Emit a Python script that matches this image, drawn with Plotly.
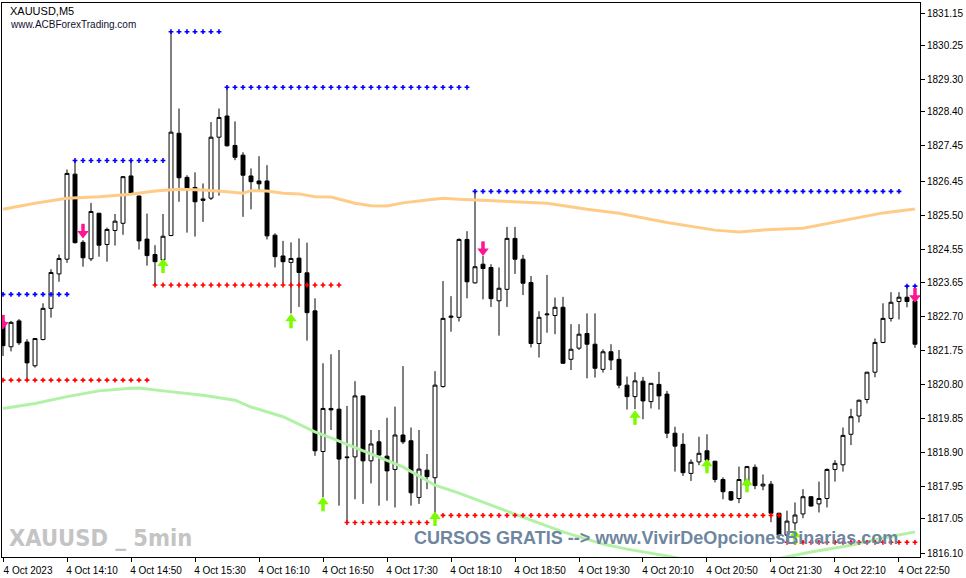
"""
XAUUSD M5 candlestick chart, MT4 style, with fractal levels and arrows
"""
import pandas as pd
import plotly.graph_objects as go

# 5 minute bars, 4 Oct 2023 13:30 .. 23:00
times = pd.date_range('2023-10-04 13:30', periods=115, freq='5min')

opens = [
    1822.55, 1821.85, 1822.57, 1821.98, 1821.32, 1822.05, 1822.92, 1823.88, 1824.29, 1826.66,
    1824.76, 1824.30, 1825.57, 1824.70, 1825.09, 1825.29, 1826.61, 1826.05, 1824.85, 1824.42,
    1824.27, 1824.95, 1827.80, 1826.57, 1826.29, 1825.97, 1825.99, 1827.69, 1828.28, 1827.46,
    1827.19, 1826.61, 1826.47, 1826.47, 1824.96, 1824.38, 1824.20, 1824.32, 1823.91, 1822.85,
    1818.93, 1820.13, 1820.11, 1818.78, 1818.78, 1820.48, 1818.67, 1819.20, 1818.80, 1818.43,
    1819.39, 1819.23, 1817.65, 1818.41, 1818.20, 1820.74, 1822.67, 1822.67, 1824.84, 1823.63,
    1824.15, 1824.06, 1823.13, 1823.45, 1824.87, 1824.29, 1823.64, 1821.94, 1822.74, 1822.72,
    1822.95, 1821.50, 1821.81, 1822.22, 1821.92, 1821.22, 1821.71, 1821.50, 1820.78, 1820.46,
    1820.89, 1820.32, 1820.80, 1820.53, 1819.44, 1819.13, 1818.32, 1818.64, 1818.95, 1818.66,
    1818.15, 1817.81, 1817.62, 1817.99, 1818.49, 1817.97, 1818.02, 1817.21, 1816.60, 1816.94,
    1817.19, 1817.67, 1817.47, 1817.62, 1818.43, 1818.56, 1819.41, 1819.92, 1820.38, 1821.14,
    1821.97, 1822.64, 1823.11, 1823.23, 1823.13,
]
highs = [
    1822.65, 1822.57, 1822.62, 1822.06, 1822.09, 1823.06, 1824.01, 1824.42, 1826.79, 1827.04,
    1824.82, 1825.86, 1825.58, 1825.17, 1825.55, 1826.61, 1827.05, 1826.06, 1825.56, 1824.68,
    1825.55, 1830.64, 1828.49, 1826.63, 1826.71, 1826.40, 1828.11, 1828.49, 1829.08, 1828.13,
    1827.27, 1826.82, 1827.16, 1826.91, 1825.01, 1824.80, 1824.76, 1824.87, 1824.75, 1823.20,
    1821.39, 1821.64, 1821.76, 1820.20, 1820.89, 1820.49, 1819.53, 1819.53, 1819.87, 1820.18,
    1821.31, 1819.60, 1819.53, 1818.86, 1821.17, 1823.68, 1823.26, 1824.87, 1825.07, 1826.18,
    1824.38, 1824.15, 1824.06, 1825.19, 1825.19, 1824.41, 1823.82, 1822.84, 1823.85, 1823.22,
    1823.24, 1822.48, 1822.48, 1822.78, 1822.78, 1821.78, 1821.92, 1821.76, 1821.02, 1821.14,
    1821.01, 1820.84, 1821.15, 1820.62, 1819.62, 1819.44, 1818.71, 1819.34, 1819.41, 1818.67,
    1818.21, 1817.82, 1818.51, 1818.53, 1818.57, 1818.29, 1818.11, 1817.22, 1817.28, 1817.51,
    1817.88, 1817.68, 1818.09, 1818.46, 1818.69, 1819.60, 1820.12, 1820.37, 1821.15, 1822.08,
    1823.06, 1823.37, 1823.37, 1823.53, 1823.35,
]
lows = [
    1821.59, 1821.72, 1821.90, 1820.92, 1821.27, 1822.03, 1822.66, 1823.66, 1824.19, 1824.73,
    1824.08, 1824.24, 1824.36, 1824.22, 1824.67, 1824.97, 1826.12, 1824.56, 1824.11, 1823.57,
    1824.24, 1824.93, 1825.89, 1825.03, 1824.92, 1825.33, 1825.94, 1826.06, 1827.43, 1827.05,
    1825.47, 1825.68, 1826.22, 1824.84, 1824.06, 1823.62, 1822.78, 1822.96, 1822.02, 1818.81,
    1817.66, 1819.53, 1817.42, 1816.95, 1817.60, 1817.47, 1818.04, 1817.42, 1817.56, 1817.37,
    1819.14, 1817.42, 1817.47, 1817.88, 1817.15, 1820.71, 1822.27, 1822.55, 1823.20, 1823.61,
    1823.17, 1822.96, 1822.16, 1822.96, 1823.88, 1823.29, 1821.83, 1821.55, 1822.24, 1822.20,
    1821.37, 1821.20, 1821.76, 1820.97, 1820.99, 1821.13, 1821.20, 1820.69, 1820.10, 1820.11,
    1819.83, 1820.13, 1820.10, 1819.30, 1818.37, 1818.25, 1818.11, 1818.55, 1818.62, 1818.07,
    1817.60, 1817.55, 1817.49, 1817.85, 1817.88, 1817.85, 1816.96, 1816.52, 1816.40, 1816.74,
    1817.07, 1817.40, 1817.23, 1817.37, 1818.09, 1818.37, 1819.11, 1819.74, 1820.27, 1821.00,
    1821.95, 1822.55, 1822.61, 1822.95, 1821.82,
]
closes = [
    1821.88, 1822.53, 1821.96, 1821.40, 1822.08, 1822.92, 1823.92, 1824.31, 1826.68, 1824.75,
    1824.33, 1825.62, 1824.68, 1825.12, 1825.35, 1826.59, 1826.13, 1824.80, 1824.39, 1824.22,
    1824.93, 1827.83, 1826.56, 1826.26, 1825.89, 1825.93, 1827.69, 1828.24, 1827.45, 1827.13,
    1826.63, 1826.45, 1826.39, 1824.94, 1824.36, 1824.22, 1824.31, 1823.92, 1822.80, 1818.95,
    1820.13, 1820.09, 1818.72, 1818.76, 1820.48, 1818.67, 1819.14, 1818.83, 1818.39, 1819.39,
    1819.20, 1817.78, 1818.44, 1818.23, 1820.78, 1822.64, 1822.70, 1824.84, 1823.66, 1824.08,
    1824.03, 1823.19, 1823.48, 1824.87, 1824.29, 1823.62, 1821.94, 1822.67, 1822.76, 1822.95,
    1821.39, 1821.78, 1822.20, 1821.92, 1821.25, 1821.71, 1821.48, 1820.78, 1820.46, 1820.90,
    1820.34, 1820.83, 1820.48, 1819.44, 1819.08, 1818.34, 1818.63, 1818.88, 1818.69, 1818.15,
    1817.81, 1817.58, 1818.15, 1818.51, 1817.98, 1818.02, 1817.21, 1816.60, 1816.99, 1817.16,
    1817.67, 1817.41, 1817.62, 1818.43, 1818.60, 1819.38, 1819.90, 1820.36, 1821.14, 1821.97,
    1822.64, 1823.09, 1823.23, 1823.11, 1821.92,
]

# fractal resistance / support levels (price, first bar, last bar)
blue_levels = [1823.31, 1827.04, 1830.63, 1829.08, 1826.18, 1823.54]
blue_start = [0, 9, 21, 28, 59, 113]
blue_end = [8, 20, 27, 58, 112, 114]
red_levels = [1820.92, 1823.57, 1816.95, 1817.15, 1816.40]
red_start = [0, 19, 43, 54, 98]
red_end = [18, 42, 53, 97, 114]

# signal arrows (price at arrow centre)
down_bars = [0, 10, 60, 114]
down_prices = [1822.51, 1825.05, 1824.56, 1823.26]
up_bars = [20, 36, 40, 54, 79, 88, 93, 99]
up_prices = [1824.13, 1822.59, 1817.49, 1817.08, 1819.90, 1818.55, 1818.02, 1816.57]

# moving average bands
ma_high_bars = [0, 4, 8, 12, 16, 19, 22, 25, 28, 30, 31, 33, 35, 37, 39, 41, 44, 46, 48, 50,
                53, 55, 57, 59, 64, 68, 73, 77, 83, 89, 92, 96, 100, 106, 110, 114]
ma_high = [1825.68, 1825.85, 1825.99, 1826.03, 1826.10, 1826.19, 1826.24, 1826.22, 1826.17,
           1826.13, 1826.20, 1826.19, 1826.13, 1826.11, 1826.03, 1826.02, 1825.85, 1825.78,
           1825.77, 1825.86, 1825.94, 1825.99, 1825.96, 1825.94, 1825.90, 1825.85, 1825.68,
           1825.57, 1825.31, 1825.10, 1825.05, 1825.12, 1825.15, 1825.40, 1825.58, 1825.69]
ma_low_bars = [0, 4, 8, 12, 16, 17, 20, 25, 29, 31, 35, 39, 41, 45, 50, 54, 57, 62, 66, 70,
               75, 78, 83, 88, 93, 98, 101, 106, 110, 114]
ma_low = [1820.13, 1820.27, 1820.46, 1820.62, 1820.69, 1820.70, 1820.62, 1820.50, 1820.36,
          1820.17, 1819.90, 1819.48, 1819.31, 1818.94, 1818.50, 1817.99, 1817.77, 1817.35,
          1817.03, 1816.69, 1816.35, 1816.21, 1816.02, 1815.79, 1815.77, 1815.99, 1816.13,
          1816.32, 1816.52, 1816.69]

# axis labels
price_ticks = [1831.15, 1830.25, 1829.30, 1828.40, 1827.45, 1826.45, 1825.50, 1824.55,
               1823.65, 1822.70, 1821.75, 1820.80, 1819.85, 1818.90, 1817.95, 1817.05, 1816.10]
time_tick_bars = [0, 8, 16, 24, 32, 40, 48, 56, 64, 72, 80, 88, 96, 104, 112]
time_tick_text = ['4 Oct 2023', '4 Oct 14:10', '4 Oct 14:50', '4 Oct 15:30', '4 Oct 16:10',
                  '4 Oct 16:50', '4 Oct 17:30', '4 Oct 18:10', '4 Oct 18:50', '4 Oct 19:30',
                  '4 Oct 20:10', '4 Oct 20:50', '4 Oct 21:30', '4 Oct 22:10', '4 Oct 22:50']

FONT = 'Liberation Sans, Arial, sans-serif'
HEAD_OFF = 0.042   # arrow head offset from centre, in price
SHAFT_OFF = 0.09   # arrow shaft offset from centre, in price
UP_COLOR = '#7CFC00'
DOWN_COLOR = '#FF1493'

fig = go.Figure()

fig.add_trace(go.Scatter(
    x=times[ma_high_bars], y=ma_high, mode='lines',
    line=dict(color='#FFCC88', width=3), hoverinfo='skip'
))
fig.add_trace(go.Scatter(
    x=times[ma_low_bars], y=ma_low, mode='lines',
    line=dict(color='#B2F2A6', width=3), hoverinfo='skip'
))

# dotted levels
def level_points(levels, starts, ends):
    xs, ys = [], []
    for lvl, s, e in zip(levels, starts, ends):
        xs.extend(times[s:e + 1])
        ys.extend([lvl] * (e - s + 1))
    return xs, ys

bx, by = level_points(blue_levels, blue_start, blue_end)
rx, ry = level_points(red_levels, red_start, red_end)
fig.add_trace(go.Scatter(x=bx, y=by, mode='markers',
                         marker=dict(symbol='cross', size=4, color='#0000FF', line=dict(width=0)),
                         hoverinfo='skip'))
fig.add_trace(go.Scatter(x=rx, y=ry, mode='markers',
                         marker=dict(symbol='cross', size=4, color='#FF0000', line=dict(width=0)),
                         hoverinfo='skip'))

fig.add_trace(go.Candlestick(
    x=times, open=opens, high=highs, low=lows, close=closes,
    increasing=dict(line=dict(color='black', width=1), fillcolor='white'),
    decreasing=dict(line=dict(color='black', width=1), fillcolor='black'),
    whiskerwidth=0, hoverinfo='x+y',
))

# arrows: triangle head + thick shaft
fig.add_trace(go.Scatter(
    x=times[up_bars], y=[p - SHAFT_OFF for p in up_prices], mode='markers',
    marker=dict(symbol='line-ns', size=7, line=dict(color=UP_COLOR, width=3.5)), hoverinfo='skip'
))
fig.add_trace(go.Scatter(
    x=times[up_bars], y=[p + HEAD_OFF for p in up_prices], mode='markers',
    marker=dict(symbol='triangle-up', size=10, color=UP_COLOR, line=dict(width=0)), hoverinfo='skip'
))
fig.add_trace(go.Scatter(
    x=times[down_bars], y=[p + SHAFT_OFF for p in down_prices], mode='markers',
    marker=dict(symbol='line-ns', size=7, line=dict(color=DOWN_COLOR, width=3.5)), hoverinfo='skip'
))
fig.add_trace(go.Scatter(
    x=times[down_bars], y=[p - HEAD_OFF for p in down_prices], mode='markers',
    marker=dict(symbol='triangle-down', size=10, color=DOWN_COLOR, line=dict(width=0)),
    hoverinfo='skip'
))

fig.add_annotation(xref='paper', yref='paper', x=0.0065, y=0.986, xanchor='left', yanchor='middle',
                   text='XAUUSD,M5', showarrow=False, font=dict(family=FONT, size=11, color='black'))
fig.add_annotation(xref='paper', yref='paper', x=0.0065, y=0.962, xanchor='left', yanchor='middle',
                   text='www.ACBForexTrading.com', showarrow=False,
                   font=dict(family=FONT, size=10, color='#101030'))
fig.add_annotation(xref='paper', yref='paper', x=0.0055, y=0.034, xanchor='left', yanchor='middle',
                   text='<b>XAUUSD _ 5min</b>', showarrow=False,
                   font=dict(family='DejaVu Sans Condensed, Liberation Sans Narrow', size=23.5,
                             color='#C4C4C4'))
fig.add_annotation(xref='paper', yref='paper', x=0.447, y=0.034, xanchor='left', yanchor='middle',
                   text='<b>CURSOS GRATIS --> www.VivirDeOpcionesBinarias.com</b>', showarrow=False,
                   font=dict(family=FONT, size=18, color='#6F86A0'))

fig.update_layout(
    width=966, height=578,
    margin=dict(l=2, r=46, t=3, b=21),
    paper_bgcolor='white', plot_bgcolor='white',
    showlegend=False,
    xaxis=dict(
        type='date',
        range=['2023-10-04 13:29:22', '2023-10-04 23:03:08'],
        tickvals=times[time_tick_bars], ticktext=time_tick_text,
        ticks='outside', ticklen=4, tickcolor='black',
        showgrid=False, showline=True, linecolor='black', linewidth=1, mirror=True,
        rangeslider=dict(visible=False),
        tickfont=dict(family=FONT, size=10, color='black'),
        ticklabelshift=25,
    ),
    yaxis=dict(
        side='right',
        range=[1815.99, 1831.43],
        tickvals=price_ticks, ticktext=[f'{v:.2f}' for v in price_ticks],
        ticks='outside', ticklen=4, tickcolor='black',
        showgrid=False, showline=True, linecolor='black', linewidth=1, mirror=True,
        zeroline=False,
        tickfont=dict(family=FONT, size=10, color='black'),
    ),
)

fig.write_html('out.html', config={'displayModeBar': False},
               post_script="document.body.style.margin='0';")
